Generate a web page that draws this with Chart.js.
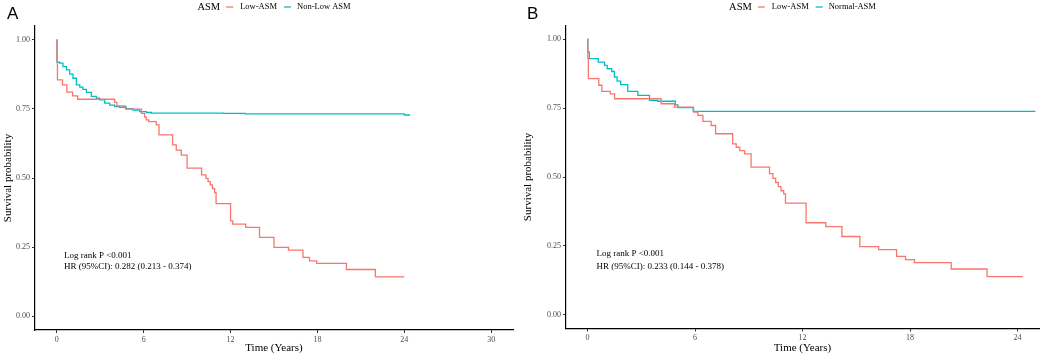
<!DOCTYPE html>
<html>
<head>
<meta charset="utf-8">
<script src="https://cdn.jsdelivr.net/npm/chart.js@4.4.0/dist/chart.umd.min.js"></script>
<style>
  body { margin: 0; background: #fff; }
  #wrap { position: relative; width: 1049px; height: 355px; }
  canvas { position: absolute; top: 0; }
  #panel-a { left: 0; }
  #panel-b { left: 520px; }
</style>
</head>
<body>
<div id="wrap">
  <canvas id="panel-a" width="520" height="355"></canvas>
  <canvas id="panel-b" width="529" height="355"></canvas>
</div>
<script>
// Kaplan-Meier curves, two panels (A: Low vs Non-Low ASM, B: Low vs Normal ASM)
// Values; each value holds until the next time point.

const RED  = '#F8766D';
const TEAL = '#00BFC4';

const yTicks  = [0, 0.25, 0.5, 0.75, 1];
const xTicksA = [0, 6, 12, 18, 24, 30];
const xTicksB = [0, 6, 12, 18, 24];

// ── Panel A ────────────────────────────────────────────────────────────────
const lowTimeA = [0, 0.02, 0.05, 0.4, 0.7, 1.1, 1.45, 4.0, 4.15, 4.75, 5.85, 6.07, 6.18, 6.35,
                  6.87, 7.06, 8.0, 8.25, 8.6, 9.0, 10.0, 10.3, 10.45, 10.6, 10.75, 10.9, 11.0,
                  12.0, 12.15, 13.05, 14.0, 15.0, 16.0, 17.0, 17.45, 17.95, 20.0, 22.0, 24.0];
const lowSurvA = [1.0, 0.92, 0.855, 0.837, 0.811, 0.797, 0.785, 0.774, 0.761, 0.749, 0.734, 0.72, 0.71, 0.704,
                  0.692, 0.656, 0.62, 0.601, 0.583, 0.536, 0.511, 0.499, 0.487, 0.475, 0.462, 0.447, 0.407,
                  0.345, 0.333, 0.321, 0.285, 0.249, 0.239, 0.213, 0.2, 0.191, 0.169, 0.142, 0.142];

const nonTimeA = [0, 0.02, 0.2, 0.43, 0.67, 0.9, 1.12, 1.36, 1.59, 1.81, 2.05, 2.39, 2.74, 2.97,
                  3.31, 3.66, 4.0, 4.34, 4.8, 5.26, 5.72, 6.19, 6.53, 11.5, 13.0, 24.0, 24.4];
const nonSurvA = [1.0, 0.919, 0.916, 0.903, 0.891, 0.876, 0.861, 0.837, 0.829, 0.821, 0.81, 0.795, 0.789, 0.783,
                  0.771, 0.764, 0.758, 0.756, 0.751, 0.746, 0.74, 0.737, 0.735, 0.734, 0.732, 0.728, 0.728];

// ── Panel B ────────────────────────────────────────────────────────────────
const lowTimeB = [0, 0.02, 0.05, 0.63, 0.8, 1.27, 1.51, 4.11, 4.86, 5.92, 6.16, 6.44, 6.9, 7.15,
                  8.1, 8.3, 8.5, 8.77, 9.13, 10.16, 10.35, 10.5, 10.65, 10.8, 10.95, 11.05,
                  12.2, 13.3, 14.2, 15.2, 16.25, 17.25, 17.75, 18.25, 20.3, 22.3, 24.3];
const lowSurvB = [1.0, 0.93, 0.857, 0.833, 0.811, 0.802, 0.784, 0.766, 0.754, 0.736, 0.724, 0.702, 0.687, 0.657,
                  0.62, 0.608, 0.596, 0.584, 0.536, 0.512, 0.495, 0.48, 0.465, 0.45, 0.439, 0.405,
                  0.334, 0.32, 0.284, 0.247, 0.236, 0.212, 0.2, 0.189, 0.166, 0.138, 0.138];

const normTimeB = [0, 0.02, 0.1, 0.6, 0.95, 1.1, 1.35, 1.5, 1.65, 1.85, 2.25, 2.81, 3.46, 3.9,
                   4.9, 5.05, 5.9, 25.0];
const normSurvB = [1.0, 0.954, 0.93, 0.917, 0.905, 0.893, 0.883, 0.863, 0.848, 0.835, 0.811, 0.796, 0.778, 0.775,
                   0.762, 0.752, 0.738, 0.738];

function toPoints(times, surv) {
  return times.map((t, i) => ({ x: t, y: surv[i] }));
}

// ── Decorations: panel letter, inline ggplot-style legend, stat notes ──────
const kmDecor = {
  id: 'kmDecor',
  afterDraw(chart, args, opts) {
    const { ctx, chartArea, scales } = chart;
    ctx.save();

    // panel letter
    ctx.fillStyle = '#000';
    ctx.font = '17px "Liberation Sans", Arial, sans-serif';
    ctx.textAlign = 'left';
    ctx.textBaseline = 'alphabetic';
    ctx.fillText(opts.letter, 7, 18.5);

    // legend row, centred over the plot panel
    const titleFont = '10.5px "Liberation Serif", serif';
    const itemFont  = '8.5px "Liberation Serif", serif';
    ctx.font = titleFont;
    const wTitle = ctx.measureText(opts.legendTitle).width;
    ctx.font = itemFont;
    const w1 = ctx.measureText(opts.labels[0]).width;
    const w2 = ctx.measureText(opts.labels[1]).width;
    const total = wTitle + 6 + 7 + 7 + w1 + 7 + 7 + 6 + w2;
    let x = (chartArea.left + chartArea.right) / 2 - total / 2;
    const y = 7;

    ctx.textBaseline = 'middle';
    ctx.font = titleFont;
    ctx.fillText(opts.legendTitle, x, y);
    x += wTitle + 6;
    [0, 1].forEach(i => {
      ctx.strokeStyle = opts.colors[i];
      ctx.lineWidth = 1.3;
      ctx.beginPath();
      ctx.moveTo(x, y);
      ctx.lineTo(x + 7, y);
      ctx.stroke();
      x += 7 + (i === 0 ? 7 : 6);
      ctx.font = itemFont;
      ctx.fillStyle = '#000';
      ctx.fillText(opts.labels[i], x, y);
      x += (i === 0 ? w1 : w2) + 7;
    });

    // log-rank / HR notes, placed in data coordinates
    ctx.font = '9px "Liberation Serif", serif';
    const nx = scales.x.getPixelForValue(opts.noteX);
    opts.notes.forEach((txt, i) => {
      ctx.fillText(txt, nx, scales.y.getPixelForValue(opts.noteY[i]));
    });

    ctx.restore();
  }
};

function makePanel(canvasId, cfg) {
  const ctx = document.getElementById(canvasId).getContext('2d');
  return new Chart(ctx, {
    type: 'line',
    data: {
      datasets: cfg.series.map(s => ({
        label: s.label,
        data: toPoints(s.t, s.s),
        borderColor: s.color,
        borderWidth: 1.3,
        stepped: 'before',   // horizontal at previous value, then drop at the event time
        pointRadius: 0,
        fill: false
      }))
    },
    plugins: [kmDecor],
    options: {
      responsive: false,
      animation: false,
      layout: { padding: cfg.padding },
      plugins: {
        legend: { display: false },
        tooltip: { enabled: false },
        kmDecor: cfg.decor
      },
      scales: {
        x: {
          type: 'linear',
          min: cfg.xMin,
          max: cfg.xMax,
          afterBuildTicks: sc => { sc.ticks = cfg.xTicks.map(v => ({ value: v })); },
          afterFit: sc => { sc.height = cfg.xAxisHeight; },
          border: { display: true, color: '#000', width: 1.2 },
          grid: { drawOnChartArea: false, drawTicks: true, tickLength: 3, tickColor: '#333' },
          ticks: { color: '#4D4D4D', padding: 2, font: { size: 8 }, maxRotation: 0 },
          title: {
            display: true,
            text: 'Time (Years)',
            color: '#000',
            font: { size: 11 },
            padding: { top: 0, bottom: 0 }
          }
        },
        y: {
          type: 'linear',
          min: -0.05,
          max: 1.05,
          afterBuildTicks: sc => { sc.ticks = yTicks.map(v => ({ value: v })); },
          afterFit: sc => { sc.width = cfg.yAxisWidth; },
          border: { display: true, color: '#000', width: 1.2 },
          grid: { drawOnChartArea: false, drawTicks: true, tickLength: 3, tickColor: '#333' },
          ticks: {
            color: '#4D4D4D',
            padding: 2,
            font: { size: 8 },
            callback: v => v.toFixed(2)
          },
          title: {
            display: true,
            text: 'Survival probability',
            color: '#000',
            font: { size: 11 },
            padding: { top: 2, bottom: 0 }
          }
        }
      }
    }
  });
}

Chart.defaults.font.family = '"Liberation Serif", "Times New Roman", serif';

makePanel('panel-a', {
  series: [
    { label: 'Low-ASM',     t: lowTimeA, s: lowSurvA, color: RED },
    { label: 'Non-Low ASM', t: nonTimeA, s: nonSurvA, color: TEAL }
  ],
  xMin: -1.5, xMax: 31.5, xTicks: xTicksA,
  yAxisWidth: 35, xAxisHeight: 25,
  padding: { left: 0, right: 7, top: 26, bottom: 0 },
  decor: {
    letter: 'A',
    legendTitle: 'ASM',
    labels: ['Low-ASM', 'Non-Low ASM'],
    colors: [RED, TEAL],
    notes: ['Log rank P <0.001', 'HR (95%CI): 0.282 (0.213 - 0.374)'],
    noteX: 0.5, noteY: [0.22, 0.178]
  }
});

makePanel('panel-b', {
  series: [
    { label: 'Low-ASM',    t: lowTimeB,  s: lowSurvB,  color: RED },
    { label: 'Normal-ASM', t: normTimeB, s: normSurvB, color: TEAL }
  ],
  xMin: -1.2, xMax: 25.2, xTicks: xTicksB,
  yAxisWidth: 46, xAxisHeight: 26.5,
  padding: { left: 0, right: 10, top: 25.5, bottom: 0 },
  decor: {
    letter: 'B',
    legendTitle: 'ASM',
    labels: ['Low-ASM', 'Normal-ASM'],
    colors: [RED, TEAL],
    notes: ['Log rank P <0.001', 'HR (95%CI): 0.233 (0.144 - 0.378)'],
    noteX: 0.5, noteY: [0.222, 0.175]
  }
});
</script>
</body>
</html>
